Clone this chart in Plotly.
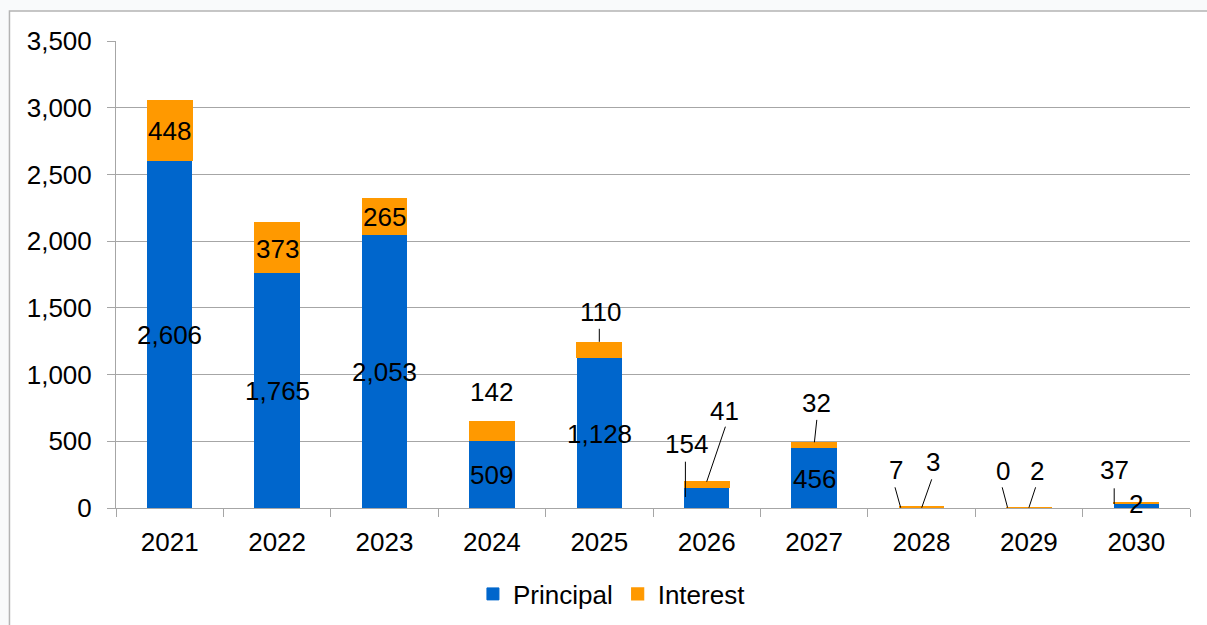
import plotly.graph_objects as go

# ---------------- data ----------------
years = ["2021", "2022", "2023", "2024", "2025", "2026", "2027", "2028", "2029", "2030"]
principal = [2606, 1765, 2053, 509, 1128, 154, 456, 7, 0, 37]
interest = [448, 373, 265, 142, 110, 41, 32, 3, 2, 2]
y_ticks = [0, 500, 1000, 1500, 2000, 2500, 3000, 3500]

# ---------------- style ----------------
BLUE = "#0066CC"
ORANGE = "#FF9900"
GRID = "#a6a6a6"
FONT = "Liberation Sans, Arial, sans-serif"
FS = 26

# Label placement for labels that Excel moved outside the bar (pixel offsets).
# anchor: "base" = y 0, "top" = top of stacked bar.  leader = (x0, y0, x1, y1) px, up positive
principal_place = {
    "2026": dict(anchor="base", dx=-20, dy=65.5, leader=(-21.3, 11, -21.3, 46.3)),
    "2028": dict(anchor="base", dx=-26, dy=39, leader=(-20.8, 0.3, -26.5, 20.7)),
    "2029": dict(anchor="base", dx=-26.3, dy=38, leader=(-21.3, 0.3, -26.7, 20.7)),
    "2030": dict(anchor="base", dx=-22, dy=39, leader=(-22.1, 4, -22.1, 19.7)),
}
interest_place = {
    "2024": dict(anchor="top", dx=0, dy=30, leader=None),
    "2025": dict(anchor="top", dx=1, dy=32, leader=(0, 1, 0, 14)),
    "2026": dict(anchor="top", dx=17.5, dy=71.5, leader=(0, 0.3, 18.7, 55.3)),
    "2027": dict(anchor="top", dx=2.7, dy=41, leader=(0.3, 0.6, 2.7, 23)),
    "2028": dict(anchor="base", dx=11, dy=47.5, leader=(0.2, 0.3, 10.2, 28.7)),
    "2029": dict(anchor="base", dx=7.7, dy=38, leader=(0, 0.3, 6.7, 20.7)),
    "2030": dict(anchor="base", dx=0, dy=5, leader=None),
}

fig = go.Figure()
fig.add_trace(go.Bar(x=years, y=principal, name="Principal",
                     marker=dict(color=BLUE, line=dict(color=BLUE, width=1))))
fig.add_trace(go.Bar(x=years, y=interest, name="Interest",
                     marker=dict(color=ORANGE, line=dict(color=ORANGE, width=1.2))))

annotations = []
shapes = []


def add_label(idx, value, center_y, total, place):
    if place is None:
        annotations.append(dict(x=idx, y=center_y, xref="x", yref="y", text=f"{value:,}",
                                showarrow=False, font=dict(family=FONT, size=FS, color="black"),
                                xanchor="center", yanchor="middle", yshift=-1))
        return
    ay_val = 0 if place["anchor"] == "base" else total
    annotations.append(dict(x=idx, y=ay_val, xref="x", yref="y", text=f"{value:,}",
                            showarrow=False, font=dict(family=FONT, size=FS, color="black"),
                            xanchor="center", yanchor="middle",
                            xshift=place["dx"], yshift=place["dy"] - 1))
    if place["leader"] is not None:
        x0, y0, x1, y1 = place["leader"]
        shapes.append(dict(type="line", xref="x", yref="y",
                           xsizemode="pixel", ysizemode="pixel",
                           xanchor=idx, yanchor=ay_val,
                           x0=x0, y0=y0, x1=x1, y1=y1,
                           line=dict(color="black", width=1)))


for k, (yr, p, i) in enumerate(zip(years, principal, interest)):
    add_label(k, p, p / 2, p + i, principal_place.get(yr))
    add_label(k, i, p + i / 2, p + i, interest_place.get(yr))

# outer chart frame
frame = dict(type="rect", xref="paper", yref="paper", x0=-0.0992, x1=1.5, y0=-1.0, y1=1.0642,
             fillcolor="white", line=dict(color="#b4b4b4", width=1.5), layer="below")

fig.update_layout(
    width=1207, height=625,
    margin=dict(l=116, r=17, t=41, b=117, autoexpand=False),
    paper_bgcolor="#f9fafb",
    plot_bgcolor="white",
    barmode="stack",
    bargap=0.586,
    font=dict(family=FONT, size=FS, color="black"),
    shapes=[frame] + shapes,
    annotations=annotations,
    showlegend=True,
    legend=dict(orientation="h", xref="container", yref="container",
                x=0.507, xanchor="center", y=0.0496, yanchor="middle",
                font=dict(family=FONT, size=FS, color="black"), bgcolor="rgba(0,0,0,0)",
                traceorder="normal"),
    xaxis=dict(type="category", range=[-0.5, len(years) - 0.5], autorange=False,
               automargin=False,
               showline=True, linecolor=GRID, linewidth=1,
               ticks="outside", tickson="boundaries", ticklen=8, tickcolor=GRID,
               showgrid=False, tickfont=dict(family=FONT, size=FS, color="black"),
               ticklabelstandoff=11),
    yaxis=dict(range=[0, 3500], autorange=False, automargin=False,
               tickvals=y_ticks, tickformat=",",
               ticks="outside", ticklen=8, tickcolor=GRID, showline=True,
               linecolor=GRID, linewidth=1,
               showgrid=True, gridcolor=GRID, gridwidth=1, zeroline=False,
               tickfont=dict(family=FONT, size=FS, color="black"),
               ticklabelstandoff=10),
)

fig.write_html("out.html", config={"displayModeBar": False},
               post_script="document.body.style.margin='0';document.body.style.overflow='hidden';")
